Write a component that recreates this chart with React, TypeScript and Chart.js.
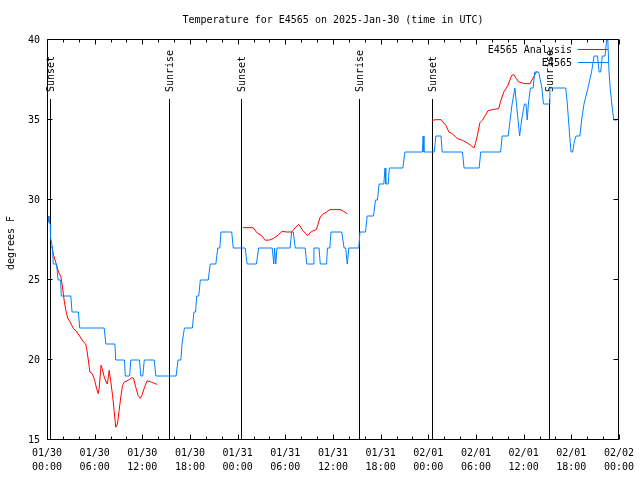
import React, { useEffect, useRef } from 'react';
import { Chart, registerables } from 'chart.js';

Chart.register(...registerables);

// ---- data (hours since 2025-01-30 00:00 UTC, degrees F) ----
const obsHours = [
  0.15, 0.25, 0.4, 0.45, 0.6, 0.7, 0.79, 1.2, 1.4, 1.72, 1.8, 3.0, 3.15, 3.95, 4.12, 7.2, 7.4, 8.55, 8.65, 9.75,
  9.85, 10.4, 10.55, 11.65, 11.8, 12.05, 12.25, 13.5, 13.7, 16.25, 16.5, 16.85, 17.0, 17.1, 17.3, 18.3, 18.5, 18.7, 18.85, 19.1,
  19.3, 20.3, 20.55, 21.25, 21.5, 21.75, 21.9, 23.25, 23.45, 24.95, 25.2, 26.35, 26.65, 28.35, 28.55, 28.65, 28.8, 28.95, 30.6, 30.8,
  31.0, 31.25, 32.5, 32.7, 33.5, 33.6, 34.25, 34.4, 35.2, 35.3, 35.6, 35.75, 37.1, 37.4, 37.6, 37.8, 38.0, 39.25, 39.4, 40.1,
  40.3, 41.1, 41.35, 41.6, 41.8, 42.4, 42.55, 42.65, 42.95, 43.1, 44.8, 45.05, 47.25, 47.35, 47.45, 48.75, 48.95, 49.6, 49.75, 52.3,
  52.5, 54.4, 54.6, 57.1, 57.3, 58.05, 58.3, 58.55, 58.9, 59.1, 59.5, 59.75, 60.1, 60.3, 60.45, 60.6, 60.85, 61.2, 61.4, 61.9,
  62.3, 62.5, 63.2, 63.3, 65.3, 65.5, 65.65, 65.8, 65.97, 66.17, 66.4, 66.6, 67.08, 67.3, 67.6, 68.1, 68.55, 68.87, 69.3, 69.5,
  69.7, 69.9, 70.25, 70.45, 70.6, 70.75, 70.9, 71.1, 71.35, 71.75,
];
const obsTempsF = [
  29, 28.6, 28.5, 27.6, 27.3, 27, 26, 26, 25, 25, 24, 24, 23, 23, 22, 22, 21, 21, 20, 20,
  19, 19, 20, 20, 19, 19, 20, 20, 19, 19, 20, 20, 21, 21, 22, 22, 23, 23, 24, 24,
  25, 25, 26, 26, 27, 27, 28, 28, 27, 27, 26, 26, 27, 27, 26, 27, 26, 27, 27, 28,
  28, 27, 27, 26, 26, 27, 27, 26, 26, 27, 27, 28, 28, 27, 27, 26, 27, 27, 28, 28,
  29, 29, 30, 30, 31, 31, 32, 31, 31, 32, 32, 33, 33, 34, 33, 33, 34, 34, 33, 33,
  32, 32, 33, 33, 34, 34, 35, 36, 37, 36, 34, 35, 36, 36, 35, 36, 37, 37, 38, 38,
  37, 36, 36, 37, 37, 36, 35, 34, 33, 33, 33.7, 34, 34, 35, 36, 37, 38, 39, 39, 38,
  38, 39, 39, 40, 40, 38, 37, 36, 35, 35,
];

const anaHours = [
  0.6, 0.83, 1.16, 1.45, 1.75, 1.95, 2.16, 2.37, 2.62, 2.9, 3.33, 3.75, 4.16, 4.58, 4.87, 5.0, 5.2, 5.4, 5.7, 6.0,
  6.25, 6.45, 6.58, 6.8, 6.95, 7.2, 7.5, 7.6, 7.83, 8.0, 8.25, 8.45, 8.66, 8.87, 9.08, 9.29, 9.5, 9.7, 10.2, 10.7,
  10.9, 11.16, 11.45, 11.75, 11.95, 12.3, 12.6, 13.0, 13.5, 13.87,
  18.0,
  24.66, 25.95, 26.45, 26.95, 27.5, 28.0, 28.5, 28.95, 29.6, 30.2, 30.8, 31.25, 31.7, 32.2, 32.8, 33.3, 33.9, 34.4, 34.7, 35.2,
  35.6, 36.9, 37.3, 37.8,
  43.0,
  48.45, 48.98, 49.6, 50.2, 50.6, 51.0, 51.66, 52.3, 52.9, 53.33, 53.75, 53.95, 54.16, 54.5, 54.8, 55.2, 55.5, 56.04, 56.87, 57.08,
  57.5, 58.0, 58.5, 58.75, 59.375, 60.2, 60.8, 61.25, 61.66,
];
const anaTempsF = [
  27.1, 26.54, 26.02, 25.5, 25.2, 24.56, 23.73, 23.1, 22.6, 22.38, 21.97, 21.76, 21.45, 21.13, 21.0, 20.7, 20.0, 19.25, 19.15, 18.73,
  18.2, 17.9, 18.3, 19.67, 19.46, 18.94, 18.56, 18.5, 19.35, 18.73, 17.8, 16.85, 15.8, 16.0, 16.85, 17.7, 18.4, 18.6, 18.73, 18.9,
  18.85, 18.33, 17.8, 17.6, 17.8, 18.33, 18.7, 18.65, 18.54, 18.48,
  null,
  28.27, 28.27, 27.94, 27.8, 27.48, 27.5, 27.6, 27.75, 28.04, 28.0, 28.0, 28.27, 28.48, 28.1, 27.77, 28.04, 28.14, 28.94, 29.1, 29.25,
  29.4, 29.4, 29.3, 29.15,
  null,
  34.98, 35.02, 35.02, 34.67, 34.25, 34.15, 33.84, 33.73, 33.57, 33.42, 33.25, 33.55, 34.0, 34.83, 34.98, 35.3, 35.57, 35.65, 35.71, 36.13,
  36.75, 37.13, 37.8, 37.83, 37.38, 37.27, 37.27, 37.69, 38.04,
];

const sunHours = [0.41, 15.3, 24.45, 39.25, 48.45, 63.2];
const sunLabels = ['Sunset', 'Sunrise', 'Sunset', 'Sunrise', 'Sunset', 'Sunrise'];

const xTickHours = [0, 6, 12, 18, 24, 30, 36, 42, 48, 54, 60, 66, 72];
const xTickDates = ['01/30', '01/30', '01/30', '01/30', '01/31', '01/31', '01/31', '01/31', '02/01', '02/01', '02/01', '02/01', '02/02'];
const xTickTimes = ['00:00', '06:00', '12:00', '18:00', '00:00', '06:00', '12:00', '18:00', '00:00', '06:00', '12:00', '18:00', '00:00'];
const xMinorHours = [2, 4, 8, 10, 14, 16, 20, 22, 26, 28, 32, 34, 38, 40, 44, 46, 50, 52, 56, 58, 62, 64, 68, 70];
const yTickValues = [15, 20, 25, 30, 35, 40];

const titleText = 'Temperature for E4565 on 2025-Jan-30 (time in UTC)';
const yTitleText = 'degrees F';
const seriesNames = ['E4565 Analysis', 'E4565'];
const seriesColors = ['#ff0000', 'rgb(0,128,255)'];

const FONT = '"DejaVu Sans Mono", "Liberation Mono", monospace';

const overlay = {
  id: 'gnuplotOverlay',
  beforeDatasetsDraw(chart: any) {
    const { ctx, chartArea: a, scales } = chart;
    const x = scales.x;
    ctx.save();
    ctx.strokeStyle = '#000';
    ctx.lineWidth = 1;
    ctx.fillStyle = '#000';
    ctx.font = `10px ${FONT}`;
    sunHours.forEach((h, i) => {
      const px = Math.round(x.getPixelForValue(h)) + 0.5;
      ctx.beginPath();
      ctx.moveTo(px, a.top + 59);
      ctx.lineTo(px, a.bottom);
      ctx.stroke();
      ctx.save();
      ctx.translate(px + 1, a.top + 52);
      ctx.rotate(-Math.PI / 2);
      ctx.textAlign = 'left';
      ctx.textBaseline = 'middle';
      ctx.fillText(sunLabels[i], 0, 0);
      ctx.restore();
    });
    ctx.restore();
  },
  afterDatasetsDraw(chart: any) {
    const { ctx, chartArea: a, scales } = chart;
    const x = scales.x;
    const y = scales.y;
    ctx.save();
    ctx.strokeStyle = '#000';
    ctx.lineWidth = 1;
    const L = Math.round(a.left) + 0.5;
    const R = Math.round(a.right) - 0.5;
    const T = Math.round(a.top) - 0.5;
    const B = Math.round(a.bottom) - 0.5;
    ctx.beginPath();
    ctx.rect(L, T, R - L, B - T);
    ctx.stroke();
    // x ticks (inward, top and bottom)
    ctx.beginPath();
    xTickHours.forEach((h) => {
      const px = Math.round(x.getPixelForValue(h)) + 0.5;
      ctx.moveTo(px, B); ctx.lineTo(px, B - 5);
      ctx.moveTo(px, T); ctx.lineTo(px, T + 5);
    });
    xMinorHours.forEach((h) => {
      const px = Math.round(x.getPixelForValue(h)) + 0.5;
      ctx.moveTo(px, B); ctx.lineTo(px, B - 3);
      ctx.moveTo(px, T); ctx.lineTo(px, T + 3);
    });
    yTickValues.forEach((v) => {
      const py = Math.round(y.getPixelForValue(v)) - 0.5;
      ctx.moveTo(L, py); ctx.lineTo(L + 5, py);
      ctx.moveTo(R, py); ctx.lineTo(R - 5, py);
    });
    ctx.stroke();

    ctx.fillStyle = '#000';
    ctx.font = `10px ${FONT}`;
    // title
    ctx.textAlign = 'center';
    ctx.textBaseline = 'middle';
    ctx.fillText(titleText, (a.left + a.right) / 2, 20);
    // y title
    ctx.save();
    ctx.translate(11, 243);
    ctx.rotate(-Math.PI / 2);
    ctx.fillText(yTitleText, 0, 0);
    ctx.restore();
    // legend
    seriesNames.forEach((name, i) => {
      const ly = a.top + 10 + i * 13;
      ctx.fillStyle = '#000';
      ctx.textAlign = 'right';
      ctx.fillText(name, a.right - 47, ly);
      ctx.strokeStyle = seriesColors[i];
      ctx.beginPath();
      ctx.moveTo(a.right - 41, Math.round(ly) - 0.5);
      ctx.lineTo(a.right - 11, Math.round(ly) - 0.5);
      ctx.stroke();
    });
    ctx.restore();
  },
};

export default function App() {
  const ref = useRef<HTMLCanvasElement | null>(null);
  useEffect(() => {
    if (!ref.current) return;
    const chart = new Chart(ref.current, {
      type: 'line',
      data: {
        datasets: [
          {
            label: seriesNames[1],
            data: obsHours.map((h, i) => ({ x: h, y: obsTempsF[i] })),
            borderColor: seriesColors[1],
            borderWidth: 1,
            pointRadius: 0,
            tension: 0,
            fill: false,
            order: 0,
          },
          {
            label: seriesNames[0],
            data: anaHours.map((h, i) => ({ x: h, y: anaTempsF[i] })),
            borderColor: seriesColors[0],
            borderWidth: 1,
            pointRadius: 0,
            tension: 0,
            fill: false,
            spanGaps: false,
            order: 1,
          },
        ],
      },
      options: {
        animation: false,
        responsive: false,
        events: [],
        layout: { padding: { top: 40, right: 18, left: 0, bottom: 0 } },
        plugins: {
          legend: { display: false },
          title: { display: false },
          tooltip: { enabled: false },
        },
        scales: {
          x: {
            type: 'linear',
            min: 0,
            max: 72,
            grid: { display: false, drawTicks: false },
            border: { display: false },
            afterBuildTicks: (scale: any) => {
              scale.ticks = xTickHours.map((v) => ({ value: v }));
            },
            afterFit: (scale: any) => {
              scale.height = 40;
            },
            ticks: {
              autoSkip: false,
              maxRotation: 0,
              minRotation: 0,
              padding: 6,
              color: '#000',
              font: { family: FONT, size: 10, lineHeight: '14px' },
              callback: (v: any) => {
                const i = xTickHours.indexOf(Number(v));
                return i >= 0 ? [xTickDates[i], xTickTimes[i]] : '';
              },
            },
          },
          y: {
            type: 'linear',
            min: 15,
            max: 40,
            grid: { display: false, drawTicks: false },
            border: { display: false },
            afterBuildTicks: (scale: any) => {
              scale.ticks = yTickValues.map((v) => ({ value: v }));
            },
            afterFit: (scale: any) => {
              scale.width = 47;
            },
            ticks: {
              padding: 7,
              color: '#000',
              font: { family: FONT, size: 10 },
            },
          },
        },
      },
      plugins: [overlay],
    } as any);
    return () => chart.destroy();
  }, []);
  return (
    <div style={{ position: 'fixed', left: 0, top: 0, width: 640, height: 480, background: '#fff' }}>
      <canvas ref={ref} width={640} height={480} style={{ display: 'block' }} />
    </div>
  );
}
